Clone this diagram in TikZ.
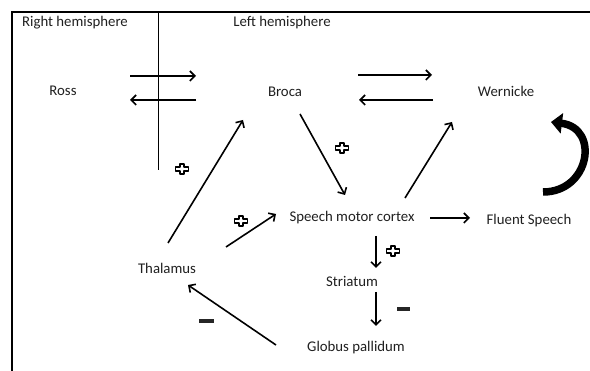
\documentclass[tikz,border=0pt]{standalone}
\usepackage{fontspec}
\setmainfont{Carlito}
\usetikzlibrary{arrows.meta,calc}
\begin{document}
\begin{tikzpicture}[x=1pt,y=-1pt,
  lbl/.style={font=\fontsize{14.8}{16}\selectfont, text=black!88, inner sep=0pt},
  arr/.style={line width=1.6pt, -{Straight Barb[length=5pt,width=10pt]}},
  frame/.style={line width=2pt, black},
  minussign/.style={fill=black!85},
  plussign/.pic={\draw[line width=1.1pt, fill=white, line join=round]
     (-6.5,-2)--(-2,-2)--(-2,-5)--(2,-5)--(2,-2)--(6.5,-2)--(6.5,2)--(2,2)--(2,5)--(-2,5)--(-2,2)--(-6.5,2)--cycle;}
]
\useasboundingbox (0,0) rectangle (590,371);
% frame
\draw[frame] (12,371) -- (12,12) -- (590,12);
\draw[line width=0.8pt] (158,12) -- (158,170);

% labels
\node[lbl] (rh) at (75,23) {Right hemisphere};
\node[lbl] (lh) at (282,23) {Left hemisphere};
\node[lbl] (ross) at (63,91) {Ross};
\node[lbl] (broca) at (285,92) {Broca};
\node[lbl] (wern) at (506,91) {Wernicke};
\node[lbl] (smc) at (352,218) {Speech motor cortex};
\node[lbl] (fluent) at (529,221) {Fluent Speech};
\node[lbl] (thal) at (167,268) {Thalamus};
\node[lbl] (stri) at (352,281) {Striatum};
\node[lbl] (gp) at (356,348) {Globus pallidum};

% arrows
\draw[arr] ($(ross)+(67,-15)$) -- ($(broca)+(-89,-16)$);
\draw[arr] ($(broca)+(-89,8)$) -- ($(ross)+(67,9)$);
\draw[arr] ($(broca)+(73,-17)$) -- ($(wern)+(-74,-16)$);
\draw[arr] ($(wern)+(-73,9)$) -- ($(broca)+(74,8)$);
\draw[arr] ($(broca)+(15,22)$) -- ($(smc)+(-7,-23)$);
\draw[arr] ($(smc)+(53,-20)$) -- ($(wern)+(-54,31)$);
\draw[arr] ($(thal)+(1,-25)$) -- ($(broca)+(-42,28)$);
\draw[arr] ($(thal)+(59,-21)$) -- ($(smc)+(-76,-4)$);
\draw[arr] ($(smc)+(78,0)$) -- ($(fluent)+(-59,-3)$);
\draw[arr] ($(smc)+(24,18)$) -- ($(stri)+(24,-13)$);
\draw[arr] ($(stri)+(24,11)$) -- ($(gp)+(20,-22)$);
\draw[arr] ($(gp)+(-80,-3)$) -- ($(thal)+(21,17)$);

% curved self arrow near Wernicke / Fluent Speech
\draw[line width=7.5pt, -{Triangle[length=11pt,width=20pt]}]
  ($(fluent)+(14,-29)$) .. controls ($(fluent)+(61,-29)$) and ($(fluent)+(71,-93)$) .. ($(wern)+(45,31)$);

% signs
\pic at (182,169) {plussign};
\pic at (241,221) {plussign};
\pic at (342,148) {plussign};
\pic at (393,251) {plussign};
\fill[minussign] (199,319) rectangle (214,323);
\fill[minussign] (397,307) rectangle (410,311);
\end{tikzpicture}
\end{document}
